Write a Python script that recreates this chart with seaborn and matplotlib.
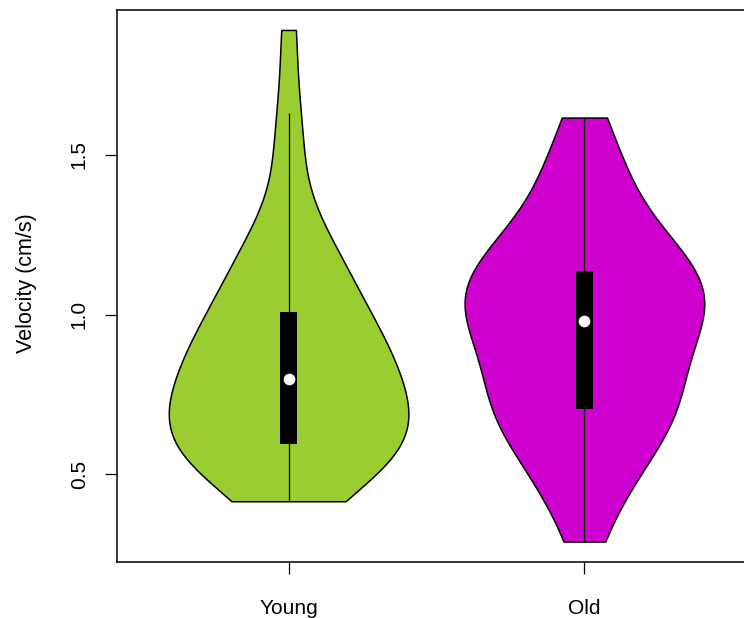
import numpy as np
import pandas as pd
import matplotlib
matplotlib.use("Agg")
import matplotlib.pyplot as plt
import seaborn as sns

# ---- data (velocities, cm/s) ----
groups = ["Young", "Old"]
young = [0.416, 0.50, 0.525, 0.54, 0.55, 0.56, 0.568, 0.576, 0.583, 0.59,
         0.597, 0.618, 0.636, 0.652, 0.68, 0.705, 0.73, 0.755, 0.772, 0.784,
         0.81, 0.835, 0.855, 0.872, 0.89, 0.905, 0.92, 0.945, 0.98, 1.005,
         1.021, 1.08, 1.14, 1.17, 1.19, 1.21, 1.26, 1.50, 1.60, 1.89]
old = [0.29, 0.44, 0.46, 0.49, 0.565, 0.64, 0.66, 0.672, 0.682, 0.692,
       0.707, 0.725, 0.761, 0.804, 0.845, 0.866, 0.891, 0.924, 0.95, 0.97,
       0.992, 1.031, 1.044, 1.05, 1.058, 1.07, 1.09, 1.10, 1.112, 1.13,
       1.158, 1.20, 1.225, 1.245, 1.275, 1.34, 1.43, 1.46, 1.515, 1.616]
colors = ["#9ACD32", "#CD00CD"]
ylabel = "Velocity (cm/s)"
yticks = [0.5, 1.0, 1.5]

df = pd.DataFrame({
    "group": ["Young"] * len(young) + ["Old"] * len(old),
    "velocity": young + old,
})

sns.set_theme(style="white")
plt.rcParams["font.family"] = ["Liberation Sans", "DejaVu Sans"]

fig = plt.figure(figsize=(7.44, 6.18), dpi=100)
ax = fig.add_axes([117 / 744, 56 / 618, 639 / 744, 552.5 / 618])

sns.violinplot(data=df, x="group", y="velocity", hue="group", order=groups,
               hue_order=groups, palette=colors, inner=None, cut=0,
               density_norm="width", width=0.81, linewidth=1.1,
               linecolor="black", saturation=1, legend=False, ax=ax)
for coll in ax.collections:
    coll.set_edgecolor("black")

# box/whisker overlay (R vioplot style)
for i, vals in enumerate([young, old]):
    v = np.asarray(vals)
    q1, med, q3 = np.percentile(v, [25, 50, 75])
    iqr = q3 - q1
    lo = max(v.min(), q1 - 1.5 * iqr)
    hi = min(v.max(), q3 + 1.5 * iqr)
    ax.vlines(i, lo, hi, color="black", lw=0.9, zorder=3)
    ax.bar(i, q3 - q1, bottom=q1, width=0.056, color="black",
           edgecolor="black", linewidth=0, zorder=4)
    ax.plot(i, med, "o", color="white", ms=8.4, mew=0, zorder=5)

allv = np.asarray(young + old)
r = allv.max() - allv.min()
ax.set_ylim(allv.min() - 0.04 * r, allv.max() + 0.04 * r)
ax.set_xlim(-0.58, 1.58)
ax.set_yticks(yticks)
ax.set_yticklabels([f"{t:.1f}" for t in yticks], rotation=90, va="center")
ax.set_xlabel("")
ax.set_ylabel(ylabel, fontsize=15.5, color="black")
ax.yaxis.set_label_coords(-0.125, 0.505)
ax.tick_params(axis="both", which="both", length=8.4, width=0.9,
               color="black", labelsize=15, labelcolor="black",
               left=True, bottom=True, direction="out")
ax.tick_params(axis="y", pad=12)
ax.tick_params(axis="x", pad=18)
for s in ax.spines.values():
    s.set_color("black")
    s.set_linewidth(1.1)
    s.set_visible(True)

fig.savefig("out.png", dpi=100)
